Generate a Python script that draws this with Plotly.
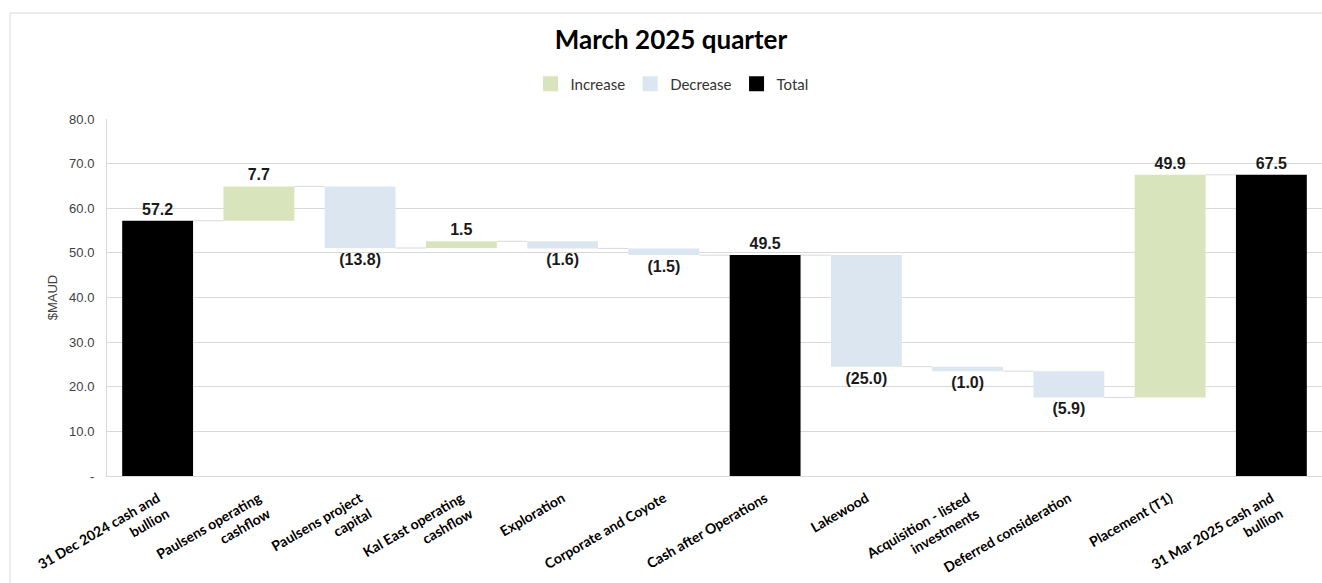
import plotly.graph_objects as go

categories = [
    "31 Dec 2024 cash and<br>bullion",
    "Paulsens operating<br>cashflow",
    "Paulsens project<br>capital",
    "Kal East operating<br>cashflow",
    "Exploration",
    "Corporate and Coyote",
    "Cash after Operations",
    "Lakewood",
    "Acquisition - listed<br>investments",
    "Deferred consideration",
    "Placement (T1)",
    "31 Mar 2025 cash and<br>bullion",
]
values = [57.2, 7.7, -13.8, 1.5, -1.6, -1.5, 49.5, -25.0, -1.0, -5.9, 49.9, 67.5]
measures = ["total", "relative", "relative", "relative", "relative", "relative",
            "total", "relative", "relative", "relative", "relative", "total"]
y_tickvals = [0, 10, 20, 30, 40, 50, 60, 70, 80]
y_ticktext = ["-", "10.0", "20.0", "30.0", "40.0", "50.0", "60.0", "70.0", "80.0"]

GREEN = "#D8E4BC"
BLUE = "#DCE6F1"
BLACK = "#000000"
GRID = "#D9D9D9"

bases, heights, levels = [], [], []
running = 0.0
for v, m in zip(values, measures):
    if m == "total":
        bases.append(0.0)
        heights.append(v)
        running = v
    else:
        bases.append(running)
        heights.append(v)
        running = running + v
    levels.append(running)

def fmt(v, m):
    if m == "total" or v >= 0:
        return f"{v:.1f}"
    return f"({abs(v):.1f})"

def series(kind):
    ys, bs, ts = [], [], []
    for v, m, b, h in zip(values, measures, bases, heights):
        if kind == "total":
            ok = m == "total"
        elif kind == "inc":
            ok = m == "relative" and v >= 0
        else:
            ok = m == "relative" and v < 0
        ys.append(h if ok else None)
        bs.append(b if ok else None)
        ts.append(fmt(v, m) if ok else "")
    return ys, bs, ts

fig = go.Figure()
label_font = dict(family="Liberation Sans", size=16, color="#1a1a1a", weight="bold")
legend_items = [("Increase", "inc", GREEN), ("Decrease", "dec", BLUE), ("Total", "total", BLACK)]
for name, kind, color in legend_items:
    ys, bs, ts = series(kind)
    fig.add_trace(go.Bar(
        x=list(range(len(categories))), y=ys, base=bs, name=name,
        marker=dict(color=color, line=dict(width=0)),
        text=ts, textposition="outside", textfont=label_font,
        cliponaxis=False, hoverinfo="skip", showlegend=False,
    ))
# legend entries with larger square swatches
for name, kind, color in legend_items:
    fig.add_trace(go.Scatter(
        x=[None], y=[None], mode="markers", name=name,
        marker=dict(symbol="square", size=15, color=color, line=dict(width=0)),
        showlegend=True,
    ))

bw = 0.7
shapes = []
for i in range(len(values) - 1):
    shapes.append(dict(type="line", xref="x", yref="y",
                       x0=i + bw / 2, x1=i + 1 - bw / 2, y0=levels[i], y1=levels[i],
                       line=dict(color=GRID, width=1), layer="below"))
shapes.append(dict(type="rect", xref="paper", yref="paper",
                   x0=(10 - 107) / 1215, x1=(1340 - 107) / 1215,
                   y0=(476 - 600) / 357, y1=(476 - 13) / 357,
                   line=dict(color=GRID, width=1), layer="below"))

fig.update_layout(
    width=1322, height=583,
    margin=dict(l=107, r=0, t=119, b=107, autoexpand=False),
    paper_bgcolor="white", plot_bgcolor="white",
    barmode="overlay", bargap=0.3,
    title=dict(text="<b>March 2025 quarter</b>", x=671 / 1322, xanchor="center",
               y=1 - 40 / 583, yanchor="middle",
               font=dict(family="Lato", size=26, color="#000000")),
    legend=dict(orientation="h", x=(672 - 107) / 1215, xanchor="center",
                y=(476 - 84) / 357, yanchor="middle",
                font=dict(family="Lato", size=15, color="#333333"),
                itemwidth=30, traceorder="normal"),
    shapes=shapes,
    showlegend=True,
)
fig.update_xaxes(
    tickmode="array", tickvals=list(range(len(categories))), ticktext=categories,
    range=[-0.5, len(categories) - 0.5],
    tickangle=-30, tickfont=dict(family="Lato", size=14, color="#000000", weight="bold"),
    ticklabelstandoff=8,
    showline=True, linecolor=GRID, linewidth=1, showgrid=False, ticks="",
)
fig.update_yaxes(
    range=[0, 80], tickmode="array", tickvals=y_tickvals, ticktext=y_ticktext,
    tickfont=dict(family="Liberation Sans", size=13, color="#404040"),
    showgrid=True, gridcolor=GRID, gridwidth=1,
    showline=True, linecolor=GRID, linewidth=1, zeroline=False, ticks="",
    ticklabelstandoff=9,
    title=dict(text="$MAUD", font=dict(family="Liberation Sans", size=13, color="#404040"), standoff=8),
)

fig.write_html("out.html")
